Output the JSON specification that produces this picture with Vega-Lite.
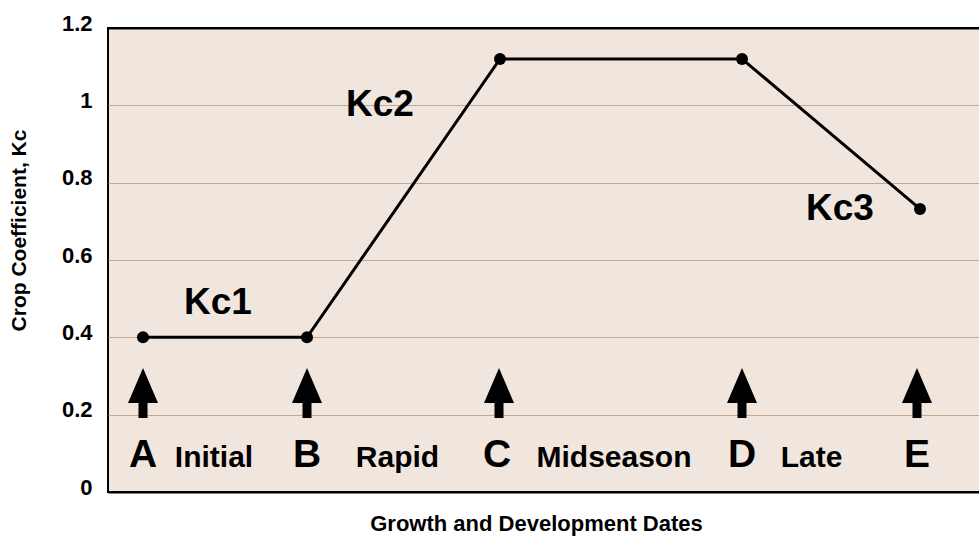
{
  "$schema": "https://vega.github.io/schema/vega-lite/v6.json",
  "autosize": {"type": "none"},
  "padding": {"left": 108, "top": 28, "right": 0, "bottom": 45},
  "width": 872,
  "height": 464,
  "background": "white",
  "config": {
    "font": "Liberation Sans",
    "view": {"fill": "#f1e6dd", "stroke": "#000000", "strokeWidth": 2}
  },
  "datasets": {
    "curve": [
      {"x": 35, "kc": 0.4},
      {"x": 199, "kc": 0.4},
      {"x": 392, "kc": 1.12},
      {"x": 634, "kc": 1.12},
      {"x": 812, "kc": 0.732}
    ],
    "arrows": [
      {"x": 35, "kc": 0.256},
      {"x": 199, "kc": 0.256},
      {"x": 391, "kc": 0.256},
      {"x": 634, "kc": 0.256},
      {"x": 809, "kc": 0.256}
    ],
    "letters": [
      {"x": 35, "kc": 0.065, "label": "A"},
      {"x": 199, "kc": 0.065, "label": "B"},
      {"x": 389, "kc": 0.065, "label": "C"},
      {"x": 634, "kc": 0.065, "label": "D"},
      {"x": 809, "kc": 0.065, "label": "E"}
    ],
    "stages": [
      {"x": 106, "kc": 0.065, "label": "Initial"},
      {"x": 289.5, "kc": 0.065, "label": "Rapid"},
      {"x": 506, "kc": 0.065, "label": "Midseason"},
      {"x": 703.5, "kc": 0.065, "label": "Late"}
    ],
    "kclabels": [
      {"x": 110, "kc": 0.46, "label": "Kc1"},
      {"x": 272, "kc": 0.972, "label": "Kc2"},
      {"x": 732, "kc": 0.703, "label": "Kc3"}
    ]
  },
  "layer": [
    {
      "data": {"name": "curve"},
      "mark": {"type": "line", "color": "#000000", "strokeWidth": 3},
      "encoding": {
        "x": {
          "field": "x", "type": "quantitative",
          "scale": {"domain": [0, 872], "nice": false, "zero": false},
          "axis": {
            "title": "Growth and Development Dates",
            "labels": false, "ticks": false, "domain": false, "grid": false,
            "titleFont": "Liberation Sans", "titleFontSize": 22, "titleFontWeight": "bold",
            "titleColor": "#000000",
            "titleX": 428, "titleY": 38, "titleBaseline": "alphabetic", "titleAlign": "center"
          }
        },
        "y": {
          "field": "kc", "type": "quantitative",
          "scale": {"domain": [0, 1.2], "nice": false},
          "axis": {
            "title": "Crop Coefficient, Kc",
            "values": [0, 0.2, 0.4, 0.6, 0.8, 1, 1.2],
            "format": "~g",
            "ticks": false, "tickSize": 0, "domain": false,
            "grid": true,
            "gridColor": {"condition": {"test": "datum.value == 0 || datum.value == 1.2", "value": "#000000"}, "value": "#c4a890"},
            "gridWidth": {"condition": {"test": "datum.value == 0 || datum.value == 1.2", "value": 2}, "value": 1},
            "labelFont": "Liberation Sans", "labelFontSize": 22, "labelFontWeight": "bold",
            "labelColor": "#000000", "labelPadding": 16, "labelOffset": -5,
            "titleFont": "Liberation Sans", "titleFontSize": 21, "titleFontWeight": "bold",
            "titleColor": "#000000",
            "titleAngle": -90, "titleX": -89, "titleY": 202,
            "titleAlign": "center", "titleBaseline": "middle"
          }
        }
      }
    },
    {
      "data": {"name": "curve"},
      "mark": {"type": "point", "shape": "circle", "filled": true, "color": "#000000", "opacity": 1, "size": 145},
      "encoding": {
        "x": {"field": "x", "type": "quantitative"},
        "y": {"field": "kc", "type": "quantitative"}
      }
    },
    {
      "data": {"name": "arrows"},
      "mark": {
        "type": "point", "filled": true, "color": "#000000", "opacity": 1, "size": 2500,
        "shape": "M0,-1L0.6,0.4L0.18,0.4L0.18,1L-0.18,1L-0.18,0.4L-0.6,0.4Z"
      },
      "encoding": {
        "x": {"field": "x", "type": "quantitative"},
        "y": {"field": "kc", "type": "quantitative"}
      }
    },
    {
      "data": {"name": "letters"},
      "mark": {"type": "text", "font": "Liberation Sans", "fontWeight": "bold", "fontSize": 39, "color": "#000000", "align": "center", "baseline": "alphabetic"},
      "encoding": {
        "x": {"field": "x", "type": "quantitative"},
        "y": {"field": "kc", "type": "quantitative"},
        "text": {"field": "label"}
      }
    },
    {
      "data": {"name": "stages"},
      "mark": {"type": "text", "font": "Liberation Sans", "fontWeight": "bold", "fontSize": 30, "color": "#000000", "align": "center", "baseline": "alphabetic"},
      "encoding": {
        "x": {"field": "x", "type": "quantitative"},
        "y": {"field": "kc", "type": "quantitative"},
        "text": {"field": "label"}
      }
    },
    {
      "data": {"name": "kclabels"},
      "mark": {"type": "text", "font": "Liberation Sans", "fontWeight": "bold", "fontSize": 37, "color": "#000000", "align": "center", "baseline": "alphabetic"},
      "encoding": {
        "x": {"field": "x", "type": "quantitative"},
        "y": {"field": "kc", "type": "quantitative"},
        "text": {"field": "label"}
      }
    }
  ]
}
